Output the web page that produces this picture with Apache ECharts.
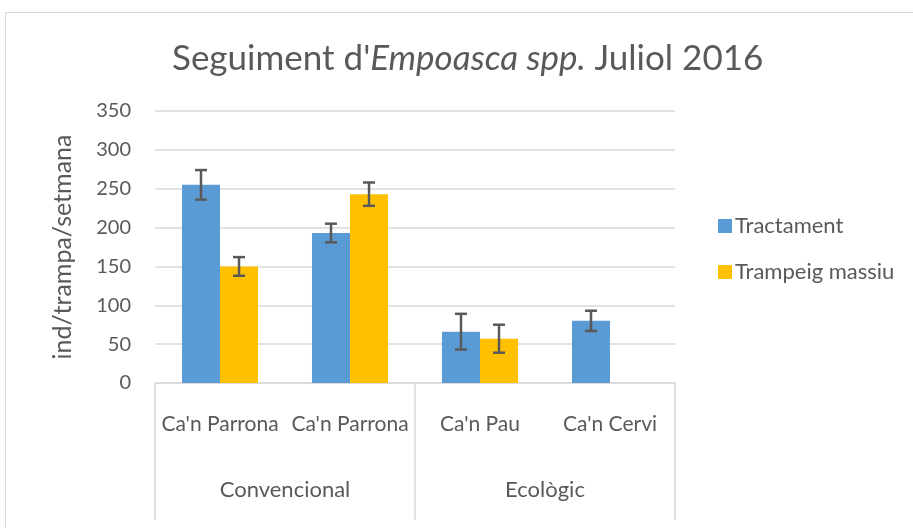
<!DOCTYPE html>
<html>
<head>
<meta charset="utf-8">
<script src="https://cdn.jsdelivr.net/npm/echarts@6/dist/echarts.min.js"></script>
<style>
  html, body { margin: 0; padding: 0; background: #fff; }
  #chart { width: 913px; height: 528px; }
</style>
</head>
<body>
<div id="chart"></div>
<script>
const farms = ["Ca'n Parrona", "Ca'n Parrona", "Ca'n Pau", "Ca'n Cervi"]
const groups = ["Convencional", "Ecològic"]
const tractament = [255, 193, 66, 80]
const tractamentErr = [19, 12, 23, 13]
const trampeig = [150, 243, 57, null]
const trampeigErr = [12, 15, 18, null]

const blue = "#5B9BD5"
const yellow = "#FFC000"
const text = "#595959"
const line = "#D9D9D9"
const font = "Lato, 'Noto Sans', sans-serif"
const gapRatio = 0.415

const chart = echarts.init(document.getElementById("chart"), null, { renderer: "canvas" })

function errorSeries(values, errs, side) {
  return {
    type: "custom",
    silent: true,
    z: 5,
    data: values.map((v, i) => (v == null ? null : [i, v, errs[i]])).filter(Boolean),
    renderItem(params, api) {
      const cat = api.value(0)
      const v = api.value(1)
      const e = api.value(2)
      const bandW = api.size([1, 0])[0]
      const barW = (bandW * (1 - gapRatio)) / 2
      const x = api.coord([cat, v])[0] + side * barW / 2
      const top = api.coord([cat, v + e])[1]
      const bot = api.coord([cat, v - e])[1]
      const cap = 6
      const style = { stroke: "#595959", lineWidth: 2.5, fill: null }
      return {
        type: "group",
        children: [
          { type: "line", shape: { x1: x, y1: top, x2: x, y2: bot }, style },
          { type: "line", shape: { x1: x - cap, y1: top, x2: x + cap, y2: top }, style },
          { type: "line", shape: { x1: x - cap, y1: bot, x2: x + cap, y2: bot }, style },
        ],
      }
    },
  }
}

chart.setOption({
  animation: false,
  textStyle: { fontFamily: font, color: text },
  graphic: [
    {
      type: "rect",
      shape: { x: 5.5, y: 12.5, width: 960, height: 600 },
      style: { fill: null, stroke: line, lineWidth: 1 },
      silent: true,
    },
  ],
  title: {
    text: "{n|Seguiment d'}{i|Empoasca spp.}{n| Juliol 2016}",
    left: 167,
    top: 36,
    textStyle: {
      fontWeight: "normal",
      rich: {
        n: { fontFamily: font, fontSize: 35, fontWeight: "normal", color: text },
        i: { fontFamily: font, fontSize: 35, fontWeight: "normal", fontStyle: "italic", color: text },
      },
    },
  },
  legend: {
    orient: "vertical",
    left: 713,
    top: 210,
    itemWidth: 14,
    itemHeight: 14,
    itemGap: 24,
    icon: "rect",
    textStyle: { color: text, fontSize: 22, fontFamily: font, padding: [0, 0, 0, -2] },
    data: ["Tractament", "Trampeig massiu"],
  },
  grid: { left: 155, right: 238, top: 111, bottom: 145, containLabel: false },
  xAxis: [
    {
      type: "category",
      data: farms,
      axisLine: { lineStyle: { color: line, width: 1.5 } },
      axisTick: { show: false },
      axisLabel: { color: text, fontSize: 21, margin: 31, interval: 0 },
    },
    {
      type: "category",
      position: "bottom",
      data: groups,
      axisLine: { show: false },
      axisTick: { show: true, length: 137, lineStyle: { color: line, width: 1.5 } },
      axisLabel: { color: text, fontSize: 22, margin: 96, interval: 0 },
      splitLine: { show: false },
    },
  ],
  yAxis: {
    type: "value",
    min: 0,
    max: 350,
    interval: 50,
    name: "ind/trampa/setmana",
    nameLocation: "middle",
    nameGap: 80,
    nameTextStyle: { color: text, fontSize: 25, fontFamily: font },
    axisLabel: { color: text, fontSize: 20, margin: 24 },
    axisLine: { show: false },
    axisTick: { show: false },
    splitLine: { lineStyle: { color: line, width: 1.5 } },
  },
  series: [
    {
      name: "Tractament",
      type: "bar",
      data: tractament,
      itemStyle: { color: blue },
      barGap: "0%",
      barCategoryGap: gapRatio * 100 + "%",
    },
    {
      name: "Trampeig massiu",
      type: "bar",
      data: trampeig,
      itemStyle: { color: yellow },
    },
    errorSeries(tractament, tractamentErr, -1),
    errorSeries(trampeig, trampeigErr, 1),
  ],
})
</script>
</body>
</html>
